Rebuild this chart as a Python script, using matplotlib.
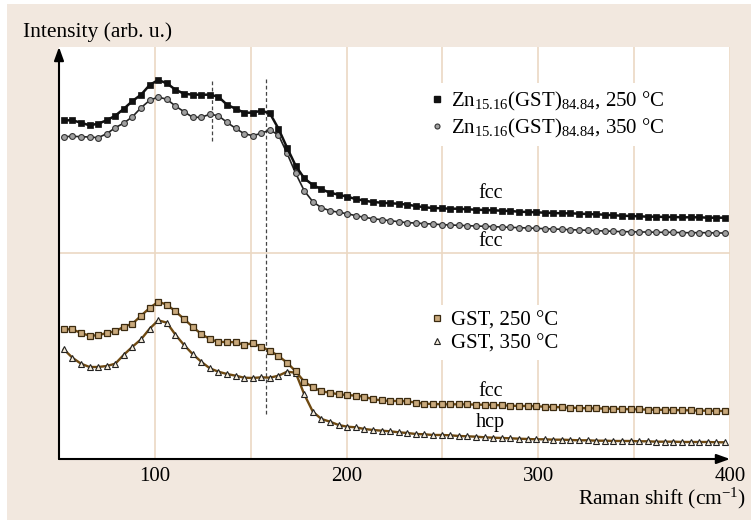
import numpy as np
import matplotlib
matplotlib.use("Agg")
import matplotlib.pyplot as plt
from matplotlib.lines import Line2D
from matplotlib.patches import Rectangle

plt.rcParams['font.family'] = ['Liberation Serif', 'DejaVu Serif']
plt.rcParams['mathtext.fontset'] = 'custom'
plt.rcParams['mathtext.rm'] = 'Liberation Serif'
plt.rcParams['mathtext.it'] = 'Liberation Serif:italic'

# Raman shift sample positions (cm^-1)
raman_shift = np.linspace(52.5, 397.4, 78)

# Intensities (arbitrary units, stacked as in the figure)
zn_250 = [338.7, 338.7, 336.3, 333.7, 335.3, 338.7, 343.3, 350.3, 358.0, 364.3,
          374.0, 379.0, 375.7, 369.3, 365.3, 364.3, 364.3, 364.3, 362.3, 354.3,
          350.3, 346.3, 346.3, 348.3, 345.7, 330.3, 311.3, 293.3, 280.7, 274.0,
          269.7, 266.3, 264.3, 262.3, 260.0, 258.3, 257.0, 256.3, 255.7, 255.3,
          254.3, 253.0, 251.7, 251.0, 250.7, 250.3, 250.3, 249.7, 249.3, 249.0,
          248.7, 248.3, 248.0, 247.3, 247.0, 246.7, 246.3, 246.0, 245.7, 245.7,
          245.3, 245.0, 244.7, 244.3, 243.7, 243.3, 243.0, 242.7, 242.3, 242.3,
          242.0, 242.0, 241.7, 241.7, 241.7, 241.3, 241.3, 241.3]
zn_350 = [322.3, 322.7, 322.3, 322.0, 321.3, 325.3, 331.3, 336.0, 342.3, 351.3,
          358.7, 362.0, 359.7, 353.0, 347.3, 341.7, 341.7, 344.7, 343.3, 336.7,
          330.7, 325.3, 323.3, 325.7, 329.0, 324.0, 305.7, 285.7, 268.3, 257.3,
          251.3, 248.3, 246.7, 245.3, 243.3, 241.7, 240.3, 239.3, 238.3, 237.3,
          236.3, 236.0, 235.3, 235.0, 234.3, 234.0, 233.7, 233.3, 233.0, 232.7,
          232.3, 232.0, 231.7, 231.3, 231.0, 230.7, 230.3, 230.0, 229.7, 229.3,
          229.0, 228.7, 228.3, 228.0, 227.7, 227.3, 227.3, 227.0, 227.0, 226.7,
          226.7, 226.7, 226.3, 226.3, 226.3, 226.3, 226.0, 226.0]
gst_250 = [129.7, 129.7, 126.0, 123.3, 123.7, 126.0, 127.7, 132.3, 135.3, 143.3,
           151.0, 157.3, 154.3, 147.7, 140.0, 132.3, 125.0, 120.0, 117.0, 117.0,
           116.7, 114.3, 115.7, 112.3, 108.3, 103.0, 96.3, 87.7, 77.3, 71.7,
           67.7, 66.3, 64.7, 64.0, 63.3, 62.3, 59.7, 58.7, 58.0, 58.0,
           57.7, 56.3, 55.3, 55.0, 54.7, 54.7, 54.7, 54.7, 54.3, 54.3,
           54.0, 53.7, 53.3, 53.0, 53.0, 52.7, 52.3, 52.0, 51.7, 51.3,
           51.0, 50.7, 50.7, 50.3, 50.3, 50.0, 49.7, 49.7, 49.3, 49.3,
           49.0, 49.0, 48.7, 48.7, 48.3, 48.3, 48.0, 48.0]
gst_350 = [109.7, 101.3, 95.3, 92.0, 92.0, 93.0, 95.3, 104.3, 112.3, 119.7,
           130.3, 138.7, 136.3, 124.3, 114.0, 105.0, 97.3, 90.7, 87.3, 85.0,
           83.3, 81.3, 81.0, 81.7, 81.3, 83.3, 87.3, 86.3, 64.7, 47.3,
           40.0, 37.3, 34.0, 32.3, 31.7, 30.0, 29.0, 28.3, 27.7, 26.7,
           26.0, 25.0, 24.7, 24.0, 24.0, 23.7, 23.0, 22.7, 22.3, 21.7,
           21.3, 21.0, 20.7, 20.3, 20.0, 19.7, 19.7, 19.3, 19.3, 19.0,
           18.7, 18.7, 18.3, 18.3, 18.0, 18.0, 18.0, 17.7, 17.7, 17.3,
           17.3, 17.3, 17.0, 17.0, 17.0, 17.0, 16.7, 16.7]

labels_zn = ["Zn$_{15.16}$(GST)$_{84.84}$, 250 °C", "Zn$_{15.16}$(GST)$_{84.84}$, 350 °C"]
labels_gst = ["GST, 250 °C", "GST, 350 °C"]
phase_labels = [("fcc", 275, 266), ("fcc", 275, 218), ("fcc", 275, 67), ("hcp", 275, 36)]
dashed_lines = [(130, 318, 380), (158, 45, 380)]
x_ticks = [100, 200, 300, 400]
grid_x = [100, 150, 200, 250, 300, 350, 400]
grid_y = [206]

BEIGE = '#F2E8DF'
GRID = '#EBD8C3'
BROWN = '#6F4A12'

fig = plt.figure(figsize=(7.51, 5.20), dpi=100)
fig.patch.set_facecolor('white')
fig.add_artist(Rectangle((7 / 751, 0), 1 - 7 / 751, 1 - 4 / 520, transform=fig.transFigure,
                         facecolor=BEIGE, edgecolor='none', zorder=-10))

ax = fig.add_axes([59 / 751, 61 / 520, 671 / 751, 412 / 520])
ax.set_facecolor('white')
ax.set_xlim(50, 400)
ax.set_ylim(0, 412)

for gx in grid_x:
    ax.axvline(gx, color=GRID, lw=1.2, zorder=0)
for gy in grid_y:
    ax.axhline(gy, color=GRID, lw=1.2, zorder=0)

for xd, y0, y1 in dashed_lines:
    ax.plot([xd, xd], [y0, y1], color='#444444', lw=0.9, ls=(0, (3, 2)), zorder=1)

ax.plot(raman_shift, zn_250, color='#111111', lw=1.8, marker='s', ms=4.8,
        mfc='#111111', mec='#111111', mew=0.5, zorder=4)
ax.plot(raman_shift, zn_350, color='#222222', lw=1.2, marker='o', ms=4.2,
        mfc='#a0a0a0', mec='#333333', mew=0.8, zorder=3)
ax.plot(raman_shift, gst_250, color=BROWN, lw=1.7, marker='s', ms=4.5,
        mfc='#C9A97C', mec='#3a2a10', mew=0.9, zorder=4)
ax.plot(raman_shift, gst_350, color=BROWN, lw=1.7, marker='^', ms=4.5,
        mfc='#F7EEDD', mec='#222222', mew=0.8, zorder=3)

for txt, tx, ty in phase_labels:
    ax.text(tx, ty, txt, ha='center', va='center', fontsize=14.5, zorder=5)

h_zn = [Line2D([], [], ls='none', marker='s', ms=4.0, mfc='#111111', mec='#111111'),
        Line2D([], [], ls='none', marker='o', ms=3.6, mfc='#a0a0a0', mec='#333333', mew=0.8)]
leg1 = ax.legend(h_zn, labels_zn, loc='upper left', bbox_to_anchor=(0.544, 0.912),
                 frameon=True, fancybox=False, facecolor='white', edgecolor='none',
                 framealpha=1, fontsize=15, handlelength=0.6, handletextpad=0.4,
                 labelspacing=0.22, borderpad=0.3, borderaxespad=0)
leg1.set_zorder(6)
ax.add_artist(leg1)
h_gst = [Line2D([], [], ls='none', marker='s', ms=3.8, mfc='#C9A97C', mec='#3a2a10', mew=0.9),
         Line2D([], [], ls='none', marker='^', ms=3.8, mfc='#F7EEDD', mec='#222222', mew=0.8)]
leg2 = ax.legend(h_gst, labels_gst, loc='upper left', bbox_to_anchor=(0.544, 0.374),
                 frameon=True, fancybox=False, facecolor='white', edgecolor='none',
                 framealpha=1, fontsize=15, handlelength=0.6, handletextpad=0.4,
                 labelspacing=0.15, borderpad=0.3, borderaxespad=0)
leg2.set_zorder(6)

for s in ax.spines.values():
    s.set_visible(False)
ax.annotate('', xy=(0, 1.0), xytext=(0, 0), xycoords='axes fraction',
            arrowprops=dict(arrowstyle='-|>,head_length=0.5,head_width=0.18', lw=1.5,
                            color='black', mutation_scale=16, shrinkA=0, shrinkB=0), zorder=7)
ax.annotate('', xy=(1.0, 0), xytext=(0, 0), xycoords='axes fraction',
            arrowprops=dict(arrowstyle='-|>,head_length=0.5,head_width=0.18', lw=1.5,
                            color='black', mutation_scale=16, shrinkA=0, shrinkB=0), zorder=7)

ax.set_xticks(x_ticks)
ax.set_xticklabels([str(t) for t in x_ticks])
ax.set_yticks([])
ax.tick_params(axis='x', length=0, pad=6, labelsize=15)

fig.text(23 / 751, 1 - 32 / 520, "Intensity (arb. u.)", ha='left', va='center', fontsize=15.5)
fig.text(746 / 751, 1 - 498 / 520, "Raman shift (cm$^{-1}$)", ha='right', va='center', fontsize=15.5)

fig.savefig('out.png', dpi=100, facecolor=fig.get_facecolor())
